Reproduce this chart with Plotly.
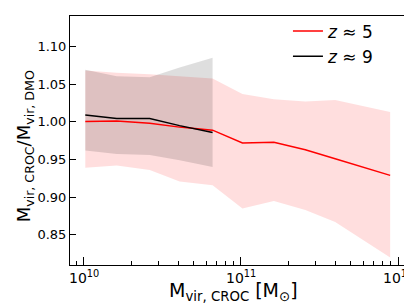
import plotly.graph_objects as go

# log10 of M_vir,CROC for bins
logm_z5 = [10.01, 10.21, 10.42, 10.61, 10.82, 11.01, 11.21, 11.41, 11.60, 11.95]
ratio_z5 = [1.0005, 1.001, 0.998, 0.993, 0.989, 0.972, 0.973, 0.963, 0.951, 0.929]
upper_z5 = [1.068, 1.065, 1.063, 1.0605, 1.0575, 1.037, 1.030, 1.027, 1.029, 1.013]
lower_z5 = [0.939, 0.942, 0.936, 0.921, 0.916, 0.885, 0.895, 0.883, 0.867, 0.820]

logm_z9 = [10.01, 10.21, 10.42, 10.61, 10.82]
ratio_z9 = [1.009, 1.0045, 1.0045, 0.995, 0.986]
upper_z9 = [1.069, 1.0605, 1.059, 1.072, 1.085]
lower_z9 = [0.962, 0.9575, 0.956, 0.949, 0.940]

xtick_exps = [10, 11, 12]
labels = ["<i>z</i> ≈ 5", "<i>z</i> ≈ 9"]
xtitle = "M<sub>vir, CROC</sub> [M<sub>⊙</sub>]"
ytitle = "M<sub>vir, CROC</sub>/M<sub>vir, DMO</sub>"

def m(lst):
    return [10 ** v for v in lst]

fig = go.Figure()
for lg, up, lo, col in [(logm_z5, upper_z5, lower_z5, "rgba(255,0,0,0.13)"),
                        (logm_z9, upper_z9, lower_z9, "rgba(0,0,0,0.13)")]:
    xs = m(lg)
    fig.add_trace(go.Scatter(x=xs + xs[::-1], y=up + lo[::-1], fill="toself",
                             fillcolor=col, line=dict(width=0), mode="lines",
                             showlegend=False, hoverinfo="skip"))

fig.add_trace(go.Scatter(x=m(logm_z5), y=ratio_z5, mode="lines",
                         line=dict(color="#ff0000", width=1.5), name=labels[0]))
fig.add_trace(go.Scatter(x=m(logm_z9), y=ratio_z9, mode="lines",
                         line=dict(color="#000000", width=1.5), name=labels[1]))

font = "DejaVu Sans"
annotations = [
    dict(text=xtitle, xref="paper", yref="paper", x=0.49, y=-0.108,
         xanchor="center", yanchor="middle", showarrow=False,
         font=dict(size=19, family=font)),
    dict(text=ytitle, xref="paper", yref="paper", x=-0.136, y=0.475,
         xanchor="center", yanchor="middle", showarrow=False, textangle=-90,
         font=dict(size=18, family=font)),
]
for e in xtick_exps:
    annotations.append(dict(text=f"10<sup>{e}</sup>", xref="x", yref="paper",
                            x=e, y=-0.005, xanchor="center", yanchor="top",
                            showarrow=False, font=dict(size=14, family=font)))

fig.update_layout(
    width=412, height=304,
    margin=dict(l=62, r=16, t=6, b=47),
    paper_bgcolor="white", plot_bgcolor="white",
    font=dict(family=font, color="black", size=13),
    legend=dict(x=0.925, y=1.01, xanchor="right", yanchor="top",
                bgcolor="rgba(0,0,0,0)", font=dict(size=17, family=font),
                tracegroupgap=0),
    showlegend=True,
    annotations=annotations,
)
fig.update_xaxes(
    type="log", range=[9.9127, 12.038],
    showline=True, linecolor="black", linewidth=1, mirror=True,
    showgrid=False, zeroline=False,
    ticks="inside", ticklen=8, tickwidth=1.2, tickcolor="black",
    dtick=1, showticklabels=False,
    minor=dict(ticks="inside", ticklen=4, tickwidth=1, tickcolor="black", dtick="D1", showgrid=False),
)
fig.update_yaxes(
    range=[0.8101, 1.1404],
    showline=True, linecolor="black", linewidth=1, mirror=True,
    showgrid=False, zeroline=False,
    ticks="inside", ticklen=6, tickwidth=1.2, tickcolor="black",
    tickvals=[0.85, 0.90, 0.95, 1.00, 1.05, 1.10], tickformat=".2f",
    tickfont=dict(size=13, family=font),
)
fig.write_html("out.html")
